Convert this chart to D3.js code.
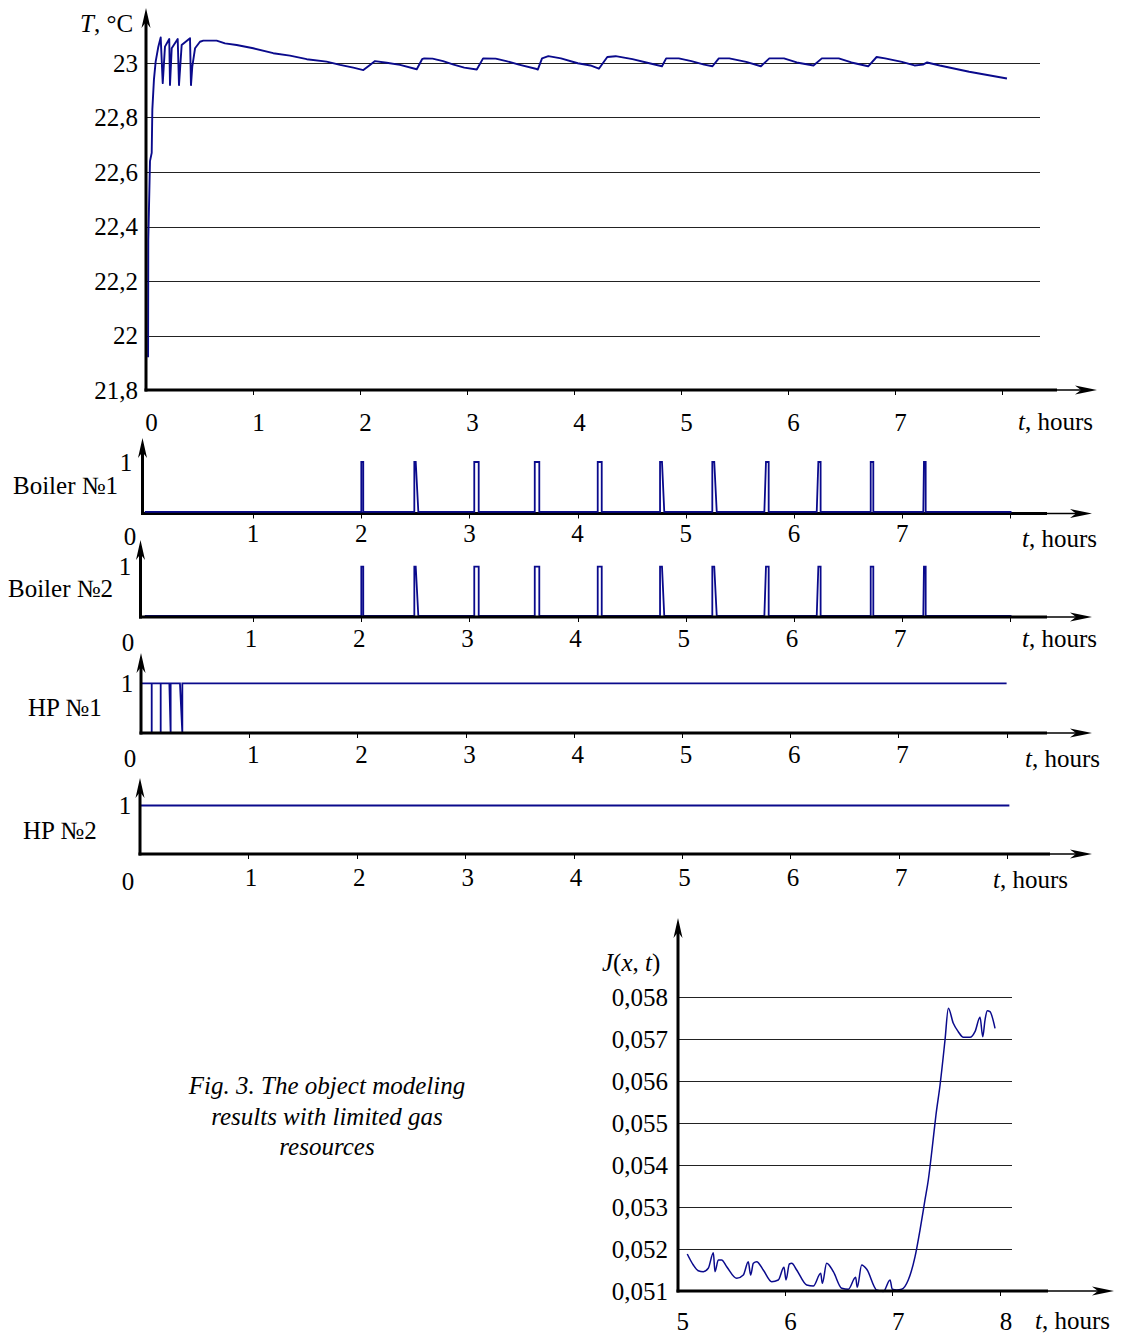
<!DOCTYPE html>
<html>
<head>
<meta charset="utf-8">
<script src="https://cdn.jsdelivr.net/npm/d3@7"></script>
<style>
  body { margin: 0; background: #fff; }
  text { font-family: "Liberation Serif", "Times New Roman", serif; font-size: 25px; fill: #000; }
</style>
</head>
<body>
<svg id="fig" width="1125" height="1335"></svg>
<script>
// ---- data ----
const hourTicks = [0, 1, 2, 3, 4, 5, 6, 7];
const tempTicks = [21.8, 22, 22.2, 22.4, 22.6, 22.8, 23];

// room temperature, hours / degC
const tempTime = [0.024, 0.026, 0.042, 0.058, 0.064, 0.079, 0.095, 0.120, 0.142, 0.161, 0.182, 0.222, 0.229, 0.245,
  0.301, 0.313, 0.338, 0.416, 0.425, 0.437, 0.463, 0.509, 0.540, 0.665, 0.743, 0.852, 1.007, 1.194, 1.350, 1.507,
  1.693, 1.818, 1.942, 2.036, 2.098, 2.145, 2.254, 2.379, 2.535, 2.585, 2.605, 2.683, 2.781, 2.880, 2.979, 3.096,
  3.155, 3.273, 3.372, 3.490, 3.647, 3.666, 3.706, 3.765, 3.883, 4.040, 4.158, 4.237, 4.316, 4.394, 4.551, 4.709,
  4.827, 4.866, 4.984, 5.102, 5.221, 5.299, 5.358, 5.456, 5.614, 5.751, 5.830, 5.967, 6.086, 6.243, 6.321, 6.479,
  6.597, 6.754, 6.833, 6.912, 7.069, 7.187, 7.266, 7.305, 7.423, 7.698, 8.051];
const tempValue = [21.92, 22.35, 22.64, 22.67, 22.83, 22.94, 23.005, 23.06, 23.094, 22.926, 23.06, 23.088, 22.919, 23.054,
  23.088, 22.919, 23.066, 23.091, 22.919, 22.986, 23.054, 23.078, 23.082, 23.082, 23.072, 23.066, 23.054, 23.036, 23.027, 23.014,
  23.005, 22.993, 22.983, 22.974, 22.993, 23.007, 23.001, 22.993, 22.977, 23.014, 23.017, 23.016, 23.007, 22.994, 22.983, 22.976,
  23.017, 23.016, 23.007, 22.994, 22.979, 22.976, 23.017, 23.025, 23.017, 22.999, 22.991, 22.979, 23.022, 23.025, 23.014, 22.999,
  22.988, 23.017, 23.017, 23.007, 22.994, 22.988, 23.017, 23.017, 23.004, 22.988, 23.017, 23.017, 23.002, 22.991, 23.017, 23.017,
  23.002, 22.988, 23.022, 23.017, 23.004, 22.991, 22.994, 23.002, 22.991, 22.968, 22.943];

// boiler switch-on pulses: [rise start, top start, top end, fall end] in hours
const boilerPulses = [
  [2.001, 2.001, 2.019, 2.019], [2.491, 2.491, 2.504, 2.528], [3.045, 3.045, 3.086, 3.086],
  [3.604, 3.604, 3.646, 3.646], [4.186, 4.186, 4.223, 4.223], [4.762, 4.762, 4.780, 4.801],
  [5.245, 5.245, 5.263, 5.286], [5.726, 5.741, 5.766, 5.766], [6.210, 6.225, 6.246, 6.246],
  [6.709, 6.709, 6.733, 6.733], [7.195, 7.201, 7.217, 7.217]
];
const boilerEnd = 8.01;

// heat pump №1 short switch-offs: [leaves 1, back at 0]
const hp1Drops = [[0.099, 0.099], [0.182, 0.182], [0.262, 0.274], [0.360, 0.382]];
const hp1End = 8.0;
const hp2End = 8.02;

// criterion J(x,t)
const jTicks = [0.051, 0.052, 0.053, 0.054, 0.055, 0.056, 0.057, 0.058];
const jHourTicks = [5, 6, 7, 8];
const jTime = [5.098, 5.154, 5.200, 5.247, 5.293, 5.340, 5.355, 5.386, 5.417, 5.464, 5.557, 5.618, 5.664, 5.686, 5.711,
  5.742, 5.803, 5.881, 5.942, 5.995, 6.014, 6.045, 6.067, 6.113, 6.206, 6.267, 6.336, 6.351, 6.391, 6.453, 6.531,
  6.592, 6.660, 6.675, 6.716, 6.763, 6.855, 6.917, 6.979, 7.000, 7.041, 7.087, 7.148, 7.211, 7.257, 7.303, 7.334,
  7.368, 7.405, 7.443, 7.489, 7.520, 7.566, 7.612, 7.659, 7.721, 7.767, 7.814, 7.839, 7.860, 7.881, 7.906, 7.953];
const jValue = [0.051881, 0.051619, 0.051483, 0.051460, 0.051540, 0.051912, 0.051460, 0.051738, 0.051738, 0.051579, 0.051302,
  0.051381, 0.051698, 0.051381, 0.051660, 0.051698, 0.051500, 0.051221, 0.051262, 0.051564, 0.051262, 0.051643, 0.051660,
  0.051500, 0.051143, 0.051119, 0.051421, 0.051183, 0.051660, 0.051460, 0.051064, 0.051040, 0.051326, 0.051088, 0.051619,
  0.051517, 0.051024, 0.050990, 0.051262, 0.051040, 0.051024, 0.051040, 0.051262, 0.051817, 0.052452, 0.053167, 0.053643,
  0.054357, 0.055190, 0.055905, 0.056976, 0.057731, 0.057374, 0.057174, 0.057040, 0.057040, 0.057174, 0.057517, 0.057055,
  0.057452, 0.057674, 0.057650, 0.057255];

const captionLines = ["Fig. 3. The object modeling", "results with limited gas", "resources"];

// ---- drawing ----
const svg = d3.select("#fig");
const NAVY = "#0a0a8c";
const fmt = v => String(+v.toFixed(3)).replace(".", ",");
const crisp = v => Math.round(v) + 0.5;

function arrowRight(x, y) {
  svg.append("path")
    .attr("d", `M${x},${y} L${x - 22},${y - 4.5} L${x - 16},${y} L${x - 22},${y + 4.5} Z`)
    .attr("fill", "#000");
}
function arrowUp(x, y) {
  svg.append("path")
    .attr("d", `M${x},${y} L${x - 4.5},${y + 20} L${x},${y + 14} L${x + 4.5},${y + 20} Z`)
    .attr("fill", "#000");
}
// axes frame: y axis with arrow, x axis thick then thin to arrow
function frame(ax, base, top, thickEnd, tipX) {
  svg.append("line").attr("x1", ax).attr("x2", ax).attr("y1", base + 1.5).attr("y2", top + 10)
    .attr("stroke", "#000").attr("stroke-width", 3);
  arrowUp(ax, top);
  svg.append("line").attr("x1", ax - 1.5).attr("x2", thickEnd).attr("y1", base).attr("y2", base)
    .attr("stroke", "#000").attr("stroke-width", 3);
  svg.append("line").attr("x1", thickEnd).attr("x2", tipX - 10).attr("y1", base).attr("y2", base)
    .attr("stroke", "#000").attr("stroke-width", 1.5);
  arrowRight(tipX, base);
}
function xTicks(x, ticks, base) {
  svg.append("g").selectAll("line").data(ticks).join("line")
    .attr("x1", d => crisp(x(d))).attr("x2", d => crisp(x(d)))
    .attr("y1", base + 1).attr("y2", base + 5)
    .attr("stroke", "#000").attr("stroke-width", 1);
}
function xLabels(x, ticks, dx, yb) {
  svg.append("g").selectAll("text").data(ticks).join("text")
    .attr("x", d => x(d) + dx).attr("y", yb)
    .attr("text-anchor", "middle").text(d => d);
}
function tHours(xs, yb) {
  const t = svg.append("text").attr("x", xs).attr("y", yb);
  t.append("tspan").attr("font-style", "italic").text("t");
  t.append("tspan").text(", hours");
}

// ---------- temperature panel ----------
{
  const x = d3.scaleLinear().domain([0, 8]).range([145.5, 145.5 + 8 * 107]);
  const y = d3.scaleLinear().domain([21.8, 23]).range([390, 63]);
  svg.append("g").selectAll("line").data(tempTicks.slice(1)).join("line")
    .attr("x1", 146).attr("x2", 1040).attr("y1", d => crisp(y(d))).attr("y2", d => crisp(y(d)))
    .attr("stroke", "#222").attr("stroke-width", 1);
  const line = d3.line().x(d => x(d[0])).y(d => y(d[1]));
  svg.append("path").datum(d3.zip(tempTime, tempValue)).attr("d", line)
    .attr("fill", "none").attr("stroke", NAVY).attr("stroke-width", 1.9).attr("stroke-linejoin", "round");
  frame(146, 390, 8, 1057, 1097);
  xTicks(x, [1, 2, 3, 4, 5, 6, 7, 8], 390);
  xLabels(x, hourTicks, 6, 431);
  svg.append("g").selectAll("text").data(tempTicks).join("text")
    .attr("x", 138).attr("y", d => y(d) + 8.5).attr("text-anchor", "end").text(fmt);
  const lab = svg.append("text").attr("x", 80).attr("y", 32);
  lab.append("tspan").attr("font-style", "italic").text("T");
  lab.append("tspan").text(", °C");
  tHours(1018, 430);
}

// ---------- binary panels ----------
function binaryPanel(cfg, pts) {
  const x = d3.scaleLinear().domain([0, 8]).range([cfg.x0, cfg.x0 + 8 * cfg.k]);
  const y = d3.scaleLinear().domain([0, 1]).range([cfg.y0, cfg.y1]);
  const line = d3.line().x(d => x(d[0])).y(d => y(d[1]));
  const draw = () => svg.append("path").datum(pts).attr("d", line)
    .attr("fill", "none").attr("stroke", NAVY).attr("stroke-width", 1.8);
  if (cfg.under) draw();
  frame(cfg.axisX, cfg.base, cfg.top, cfg.thickEnd, 1092);
  xTicks(x, [1, 2, 3, 4, 5, 6, 7, 8], cfg.base);
  if (!cfg.under) draw();
  xLabels(x, hourTicks.slice(1), cfg.ldx, cfg.labY);
  svg.append("text").attr("x", cfg.oneX).attr("y", cfg.y1 + 8.5).attr("text-anchor", "middle").text("1");
  svg.append("text").attr("x", cfg.zeroX).attr("y", cfg.zeroY).attr("text-anchor", "middle").text("0");
  svg.append("text").attr("x", cfg.nameX).attr("y", cfg.nameY).text(cfg.name);
  tHours(cfg.thX, cfg.thY);
}

function boilerPoints() {
  const pts = [[0, 0]];
  boilerPulses.forEach(p => { pts.push([p[0], 0], [p[1], 1], [p[2], 1], [p[3], 0]); });
  pts.push([boilerEnd, 0]);
  return pts;
}

binaryPanel({ name: "Boiler №1", x0: 144.8, k: 108.2, ldx: 0, axisX: 142.5, base: 513.5, top: 438,
  y0: 511.8, y1: 462, thickEnd: 1047, labY: 542, oneX: 126, zeroX: 130, zeroY: 545,
  nameX: 13, nameY: 494, thX: 1022, thY: 547 }, boilerPoints());

binaryPanel({ name: "Boiler №2", x0: 144.8, k: 108.2, ldx: -2, axisX: 140.5, base: 617, top: 540,
  y0: 616, y1: 566.7, thickEnd: 1047, labY: 647, oneX: 125, zeroX: 128, zeroY: 651,
  nameX: 8, nameY: 597, thX: 1022, thY: 647, under: true }, boilerPoints());

{
  const pts = [[0, 1]];
  hp1Drops.forEach(d => { pts.push([d[0], 1], [d[1], 0], [d[1], 1]); });
  pts.push([hp1End, 1]);
  binaryPanel({ name: "HP №1", x0: 141, k: 108.2, ldx: 4, axisX: 141, base: 733, top: 653,
    y0: 733, y1: 683.3, thickEnd: 1047, labY: 763, oneX: 127, zeroX: 130, zeroY: 767,
    nameX: 28, nameY: 716, thX: 1025, thY: 767, under: true }, pts);
}

binaryPanel({ name: "HP №2", x0: 140, k: 108.4, ldx: 2.5, axisX: 140, base: 854, top: 778,
  y0: 854, y1: 805.5, thickEnd: 1050, labY: 886, oneX: 125, zeroX: 128, zeroY: 890,
  nameX: 23, nameY: 839, thX: 993, thY: 888, under: true }, [[0, 1], [hp2End, 1]]);

// ---------- J(x,t) panel ----------
{
  const x = d3.scaleLinear().domain([5, 8]).range([676.7, 676.7 + 3 * 107.8]);
  const y = d3.scaleLinear().domain([0.051, 0.058]).range([1291, 997]);
  svg.append("g").selectAll("line").data(jTicks.slice(1)).join("line")
    .attr("x1", 678).attr("x2", 1012).attr("y1", d => crisp(y(d))).attr("y2", d => crisp(y(d)))
    .attr("stroke", "#222").attr("stroke-width", 1);
  const line = d3.line().x(d => x(d[0])).y(d => y(d[1])).curve(d3.curveMonotoneX);
  svg.append("path").datum(d3.zip(jTime, jValue)).attr("d", line)
    .attr("fill", "none").attr("stroke", NAVY).attr("stroke-width", 1.5);
  frame(678, 1291, 918, 1048, 1114);
  xTicks(x, [6, 7, 8], 1291);
  xLabels(x, jHourTicks, 6, 1330);
  svg.append("g").selectAll("text").data(jTicks).join("text")
    .attr("x", 668).attr("y", d => y(d) + 8.5).attr("text-anchor", "end").text(fmt);
  const lab = svg.append("text").attr("x", 602).attr("y", 971);
  lab.append("tspan").attr("font-style", "italic").text("J");
  lab.append("tspan").text("(");
  lab.append("tspan").attr("font-style", "italic").text("x");
  lab.append("tspan").text(", ");
  lab.append("tspan").attr("font-style", "italic").text("t");
  lab.append("tspan").text(")");
  tHours(1035, 1329);
}

// ---------- caption ----------
svg.append("g").selectAll("text").data(captionLines).join("text")
  .attr("x", 327).attr("y", (d, i) => 1094 + i * 30.5)
  .attr("text-anchor", "middle").attr("font-style", "italic").text(d => d);
</script>
</body>
</html>
